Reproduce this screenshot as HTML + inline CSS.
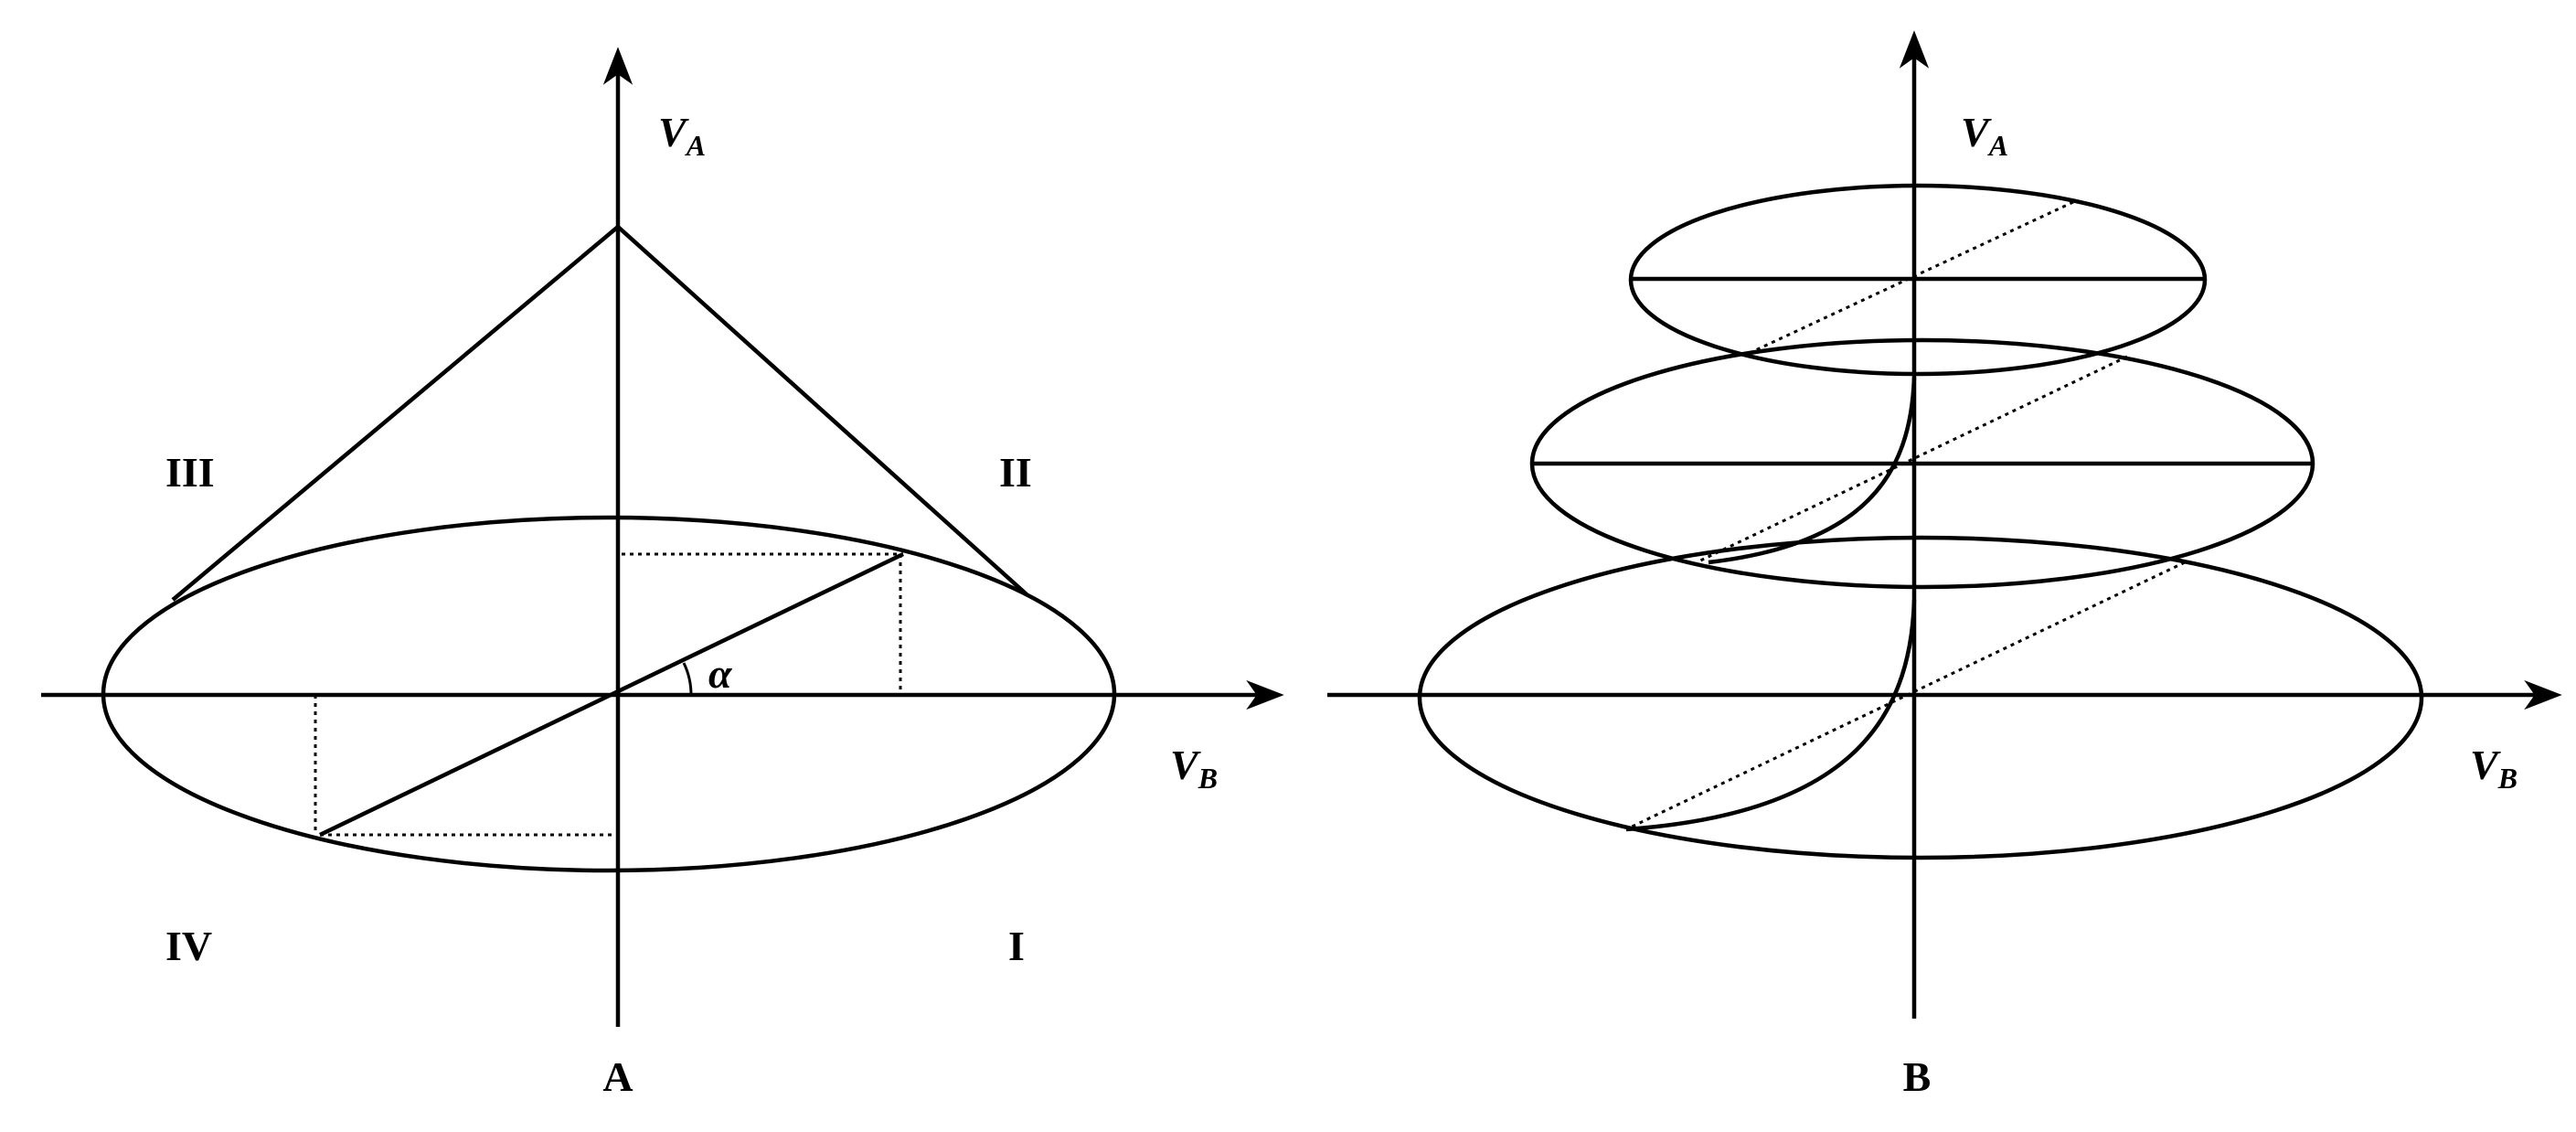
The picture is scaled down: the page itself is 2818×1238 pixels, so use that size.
<!DOCTYPE html>
<html><head><meta charset="utf-8"><style>
html,body{margin:0;padding:0;background:#fff}
svg{display:block}
text{font-family:"Liberation Serif",serif;font-weight:bold;fill:#000}
</style></head><body>
<svg width="2818" height="1238" viewBox="0 0 2818 1238" xmlns="http://www.w3.org/2000/svg">
<g stroke="#000" stroke-width="4.5" fill="none">
<!-- Left panel -->
<line x1="676" y1="60" x2="676" y2="1123"/>
<path d="M662,90 L676,54 L690,90 L676,80 Z" fill="#000" stroke-width="2"/>
<line x1="45" y1="760" x2="1395" y2="760"/>
<path d="M1366,746 L1402,760 L1366,774 L1376,760 Z" fill="#000" stroke-width="2"/>
<ellipse cx="666" cy="759" rx="553" ry="193"/>
<line x1="676" y1="248" x2="189" y2="656"/>
<line x1="676" y1="248" x2="1123" y2="650"/>
<line x1="988" y1="606" x2="350" y2="913"/>
<path d="M756,760 A80,80 0 0 0 748,725" stroke-width="3"/>
<g stroke-dasharray="4,5" stroke-width="3">
<line x1="680" y1="606" x2="988" y2="606"/>
<line x1="985" y1="606" x2="985" y2="760"/>
<line x1="345" y1="760" x2="345" y2="913"/>
<line x1="350" y1="913" x2="676" y2="913"/>
</g>
<!-- Right panel -->
<line x1="2094" y1="42" x2="2094" y2="1114"/>
<path d="M2080,72 L2094,36 L2108,72 L2094,62 Z" fill="#000" stroke-width="2"/>
<line x1="1452" y1="760" x2="2793" y2="760"/>
<path d="M2764,746 L2800,760 L2764,774 L2774,760 Z" fill="#000" stroke-width="2"/>
<ellipse cx="2101" cy="763" rx="548" ry="175"/>
<ellipse cx="2103" cy="507" rx="427" ry="135"/>
<line x1="1677" y1="507" x2="2530" y2="507"/>
<ellipse cx="2098" cy="306" rx="314" ry="103"/>
<line x1="1784" y1="305" x2="2412" y2="305"/>
<path d="M2094,413 C2090,520 2040,595 1869,615"/>
<path d="M2094,656 C2090,790 2020,890 1779,907"/>
<g stroke-dasharray="4,5" stroke-width="3">
<line x1="2268" y1="221" x2="1914" y2="386"/>
<line x1="2327" y1="390" x2="1856" y2="615"/>
<line x1="2390" y1="615" x2="1779" y2="907"/>
</g>
</g>
<g font-size="46">
<text x="720" y="160" font-style="italic">V<tspan font-size="32" dy="10">A</tspan></text>
<text x="1280" y="852" font-style="italic">V<tspan font-size="32" dy="10">B</tspan></text>
<text x="775" y="752" font-style="italic">α</text>
<text x="181" y="532">III</text>
<text x="1093" y="532">II</text>
<text x="181" y="1050">IV</text>
<text x="1103" y="1050">I</text>
<text x="676" y="1193" text-anchor="middle">A</text>
<text x="2145" y="160" font-style="italic">V<tspan font-size="32" dy="10">A</tspan></text>
<text x="2702" y="852" font-style="italic">V<tspan font-size="32" dy="10">B</tspan></text>
<text x="2097" y="1193" text-anchor="middle">B</text>
</g>
</svg>
</body></html>
